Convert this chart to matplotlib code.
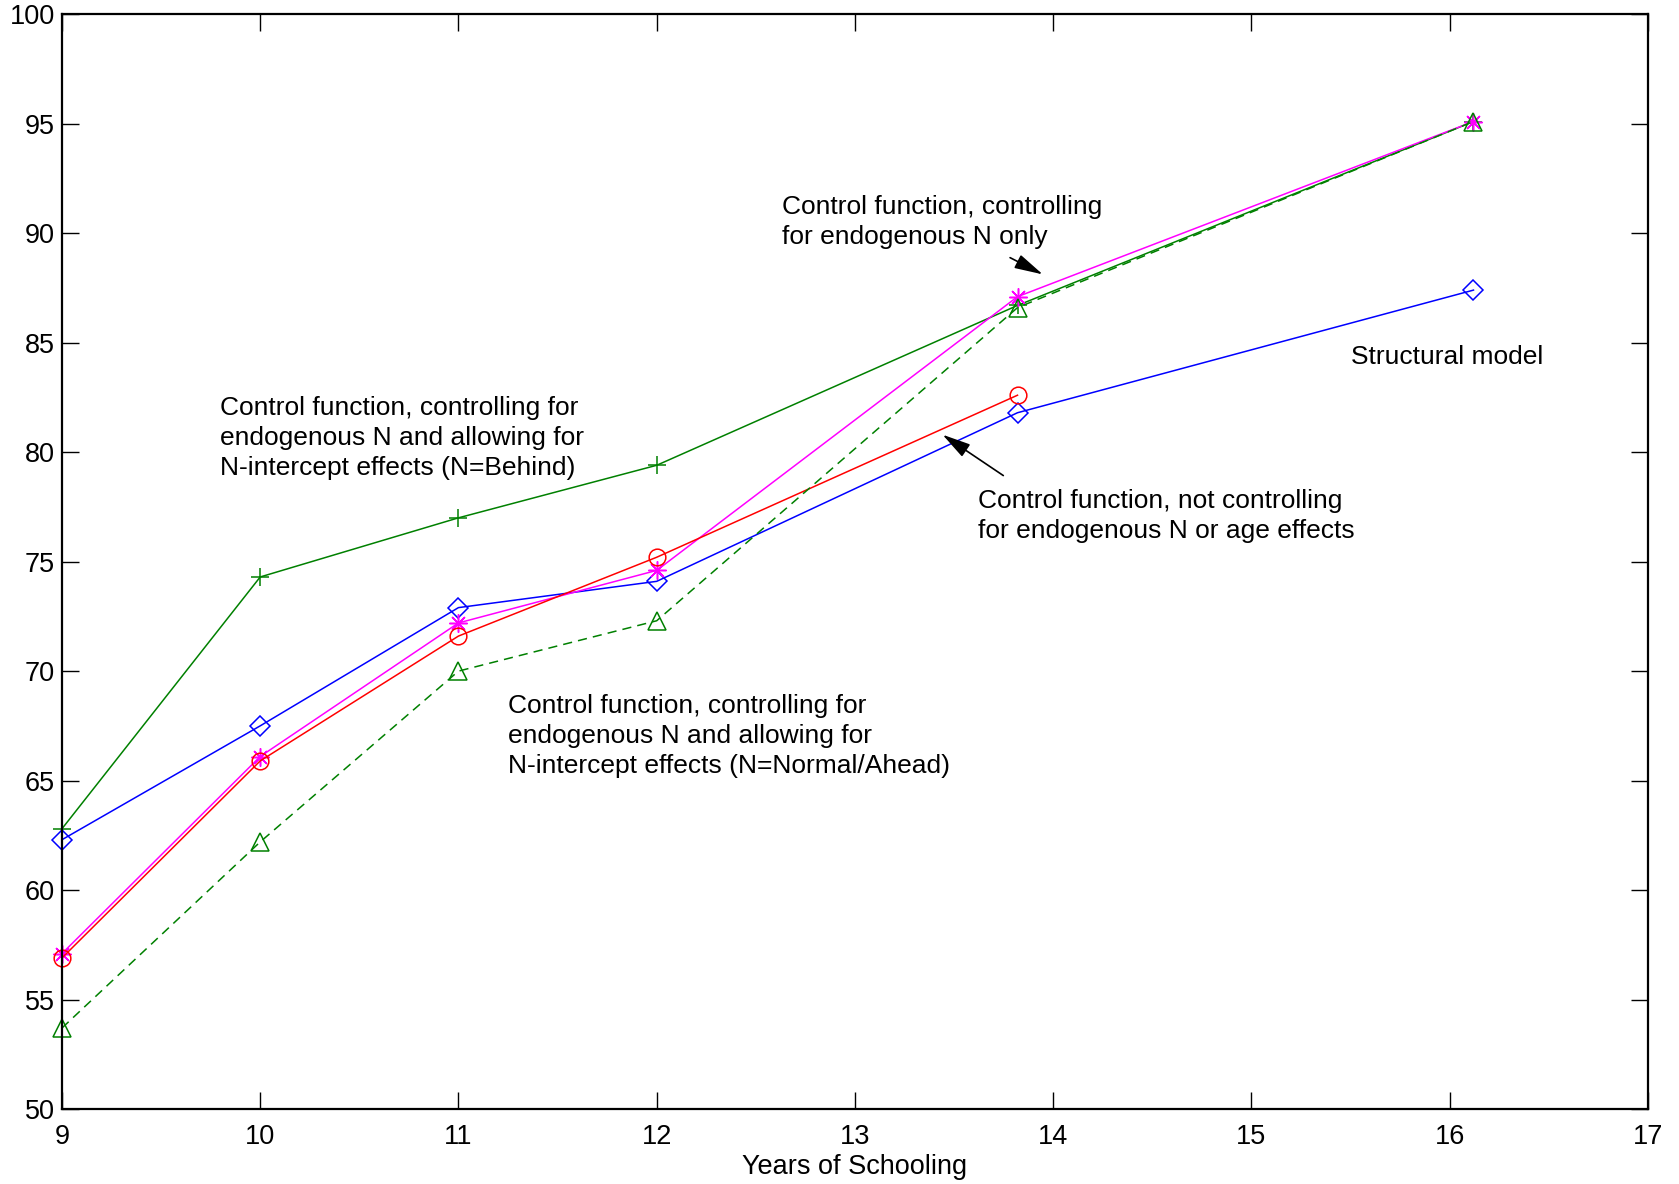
import matplotlib
matplotlib.use("Agg")
import matplotlib.pyplot as plt

# ====== Data ======
years = [9, 10, 11, 12, 13.82, 16.12]

structural = [62.3, 67.5, 72.9, 74.1, 81.8, 87.4]
cf_behind = [62.8, 74.3, 77.0, 79.4, 86.7, 95.1]
cf_n_only = [57.1, 66.1, 72.2, 74.6, 87.1, 95.1]
cf_not_ctrl = [56.9, 65.9, 71.6, 75.2, 82.6]
cf_normal = [53.7, 62.2, 70.0, 72.3, 86.6, 95.1]

xticks = [9, 10, 11, 12, 13, 14, 15, 16, 17]
yticks = [50, 55, 60, 65, 70, 75, 80, 85, 90, 95, 100]

plt.rcParams['font.family'] = ['Liberation Sans', 'DejaVu Sans']

fig = plt.figure(figsize=(16.79, 11.84), dpi=100)
ax = fig.add_axes([0.0369, 0.0633, 0.9446, 0.9247])

green = '#008000'
ax.plot(years, structural, color='blue', lw=1.1, marker='D', ms=10.5, mfc='none', mec='blue', mew=1.1, clip_on=False)
ax.plot(years, cf_behind, color=green, lw=1.1, marker='+', ms=13, mew=1.1, clip_on=False)
ax.plot(years, cf_n_only, color='magenta', lw=1.1, marker=(8, 2, 0), ms=13, mew=1.1, clip_on=False)
ax.plot(years[:5], cf_not_ctrl, color='red', lw=1.1, marker='o', ms=12, mfc='none', mec='red', mew=1.1, clip_on=False)
ax.plot(years, cf_normal, color=green, lw=1.1, ls=(0, (6, 4)), marker='^', ms=13, mfc='none', mec=green, mew=1.1,
        clip_on=False)

fs = 19
ls = 1.32
arrow = dict(arrowstyle='-|>,head_length=0.7,head_width=0.18', color='black', lw=1.2, mutation_scale=25)
ax.text(12.63, 91.75, "Control function, controlling\nfor endogenous N only", fontsize=fs, va='top', linespacing=ls)
ax.annotate("", xy=(13.96, 88.06), xytext=(13.77, 88.94), arrowprops=arrow)
ax.text(15.5, 84.35, "Structural model", fontsize=fs, va='center')
ax.text(9.795, 82.55, "Control function, controlling for\nendogenous N and allowing for\nN-intercept effects (N=Behind)",
        fontsize=fs, va='top', linespacing=ls)
ax.text(13.62, 78.3, "Control function, not controlling\nfor endogenous N or age effects",
        fontsize=fs, va='top', linespacing=ls)
ax.annotate("", xy=(13.43, 80.87), xytext=(13.76, 78.86), arrowprops=arrow)
ax.text(11.25, 68.95, "Control function, controlling for\nendogenous N and allowing for\nN-intercept effects (N=Normal/Ahead)",
        fontsize=fs, va='top', linespacing=ls)

ax.set_xlim(9, 17)
ax.set_ylim(50, 100)
ax.set_xticks(xticks)
ax.set_yticks(yticks)
ax.tick_params(direction='in', length=12, width=1, top=True, right=True, labelsize=19.5)
ax.tick_params(axis='x', pad=11)
ax.tick_params(axis='y', pad=5)
for s in ax.spines.values():
    s.set_linewidth(1.6)
ax.set_xlabel("Years of Schooling", fontsize=19.5, labelpad=3)

fig.savefig("out.png", dpi=100)
